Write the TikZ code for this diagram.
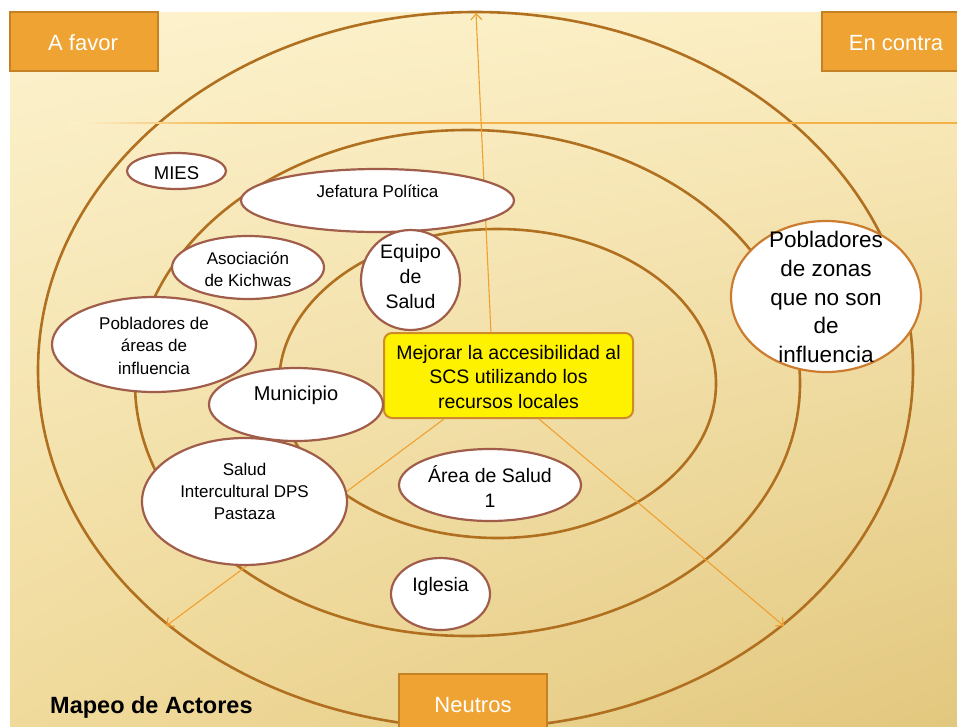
\documentclass[tikz,border=0pt]{standalone}
\usepackage{fontspec}
\setmainfont{Liberation Sans}
\usetikzlibrary{shapes.geometric,arrows.meta,shadings}
\definecolor{ringc}{RGB}{176,112,32}
\definecolor{ebord}{RGB}{160,94,74}
\definecolor{ebord2}{RGB}{204,124,46}
\definecolor{oboxc}{RGB}{239,163,50}
\definecolor{oboxb}{RGB}{196,130,36}
\definecolor{arrc}{RGB}{240,160,48}
\definecolor{hlinec}{RGB}{243,178,72}
\definecolor{goalb}{RGB}{206,140,40}
\definecolor{bgUL}{RGB}{252,242,206}
\definecolor{bgUR}{RGB}{251,237,192}
\definecolor{bgLL}{RGB}{240,218,155}
\definecolor{bgLR}{RGB}{226,199,126}
\newcommand{\fs}[2]{\fontsize{#1}{#2}\selectfont}
\begin{document}
\begin{tikzpicture}[x=1pt,y=-1pt,
  ringline/.style={draw=ringc,line width=2.6pt},
  ell/.style={ellipse,draw=ebord,line width=2.2pt,fill=white,inner sep=0pt},
  txt/.style={inner sep=0pt,align=center,text=black},
  obox/.style={rectangle,fill=oboxc,draw=oboxb,line width=2pt,minimum width=148pt,minimum height=59pt,inner sep=0pt},
  wtxt/.style={inner sep=0pt,text=white,font=\fs{22}{26},anchor=base},
  arr/.style={draw=arrc,line width=1.1pt,-{Straight Barb[length=6pt,width=11pt]}},
  goalbox/.style={rectangle,rounded corners=8pt,fill=yellow,draw=goalb,line width=2pt,minimum width=249pt,minimum height=85pt,inner sep=0pt}
]
\useasboundingbox (0,0) rectangle (957,726);
\fill[white] (0,0) rectangle (957,726);
\shade[upper left=bgUL,upper right=bgUR,lower left=bgLL,lower right=bgLR] (10,12) rectangle (957,726);

% concentric rings
\draw[ringline] (475.5,370) ellipse [x radius=437.5, y radius=358];
\draw[ringline] (467.5,383) ellipse [x radius=332.5, y radius=253];
\draw[ringline] (497.5,383.5) ellipse [x radius=218.5, y radius=154.5];

% horizontal line
\coordinate (hl) at (240,123);
\coordinate (hr) at (957,123);
\shade[left color=bgUL,right color=hlinec] (70,122.3) rectangle (240,123.7);
\draw[draw=hlinec,line width=1.4pt] (hl) -- (hr);

% goal box
\node[goalbox] (goal) at (508.5,375.5) {};
\node[txt,font=\fs{19.5}{24.5}] (goalt) at (508.5,377) {Mejorar la accesibilidad al\\SCS utilizando los\\recursos locales};

% arrows
\coordinate (topend) at (476,13);
\coordinate (llend) at (166,626);
\coordinate (lrend) at (784,626);
\draw[arr] (goal.112) -- (topend);
\draw[arr] (goal.214) -- (llend);
\draw[arr] (goal.305) -- (lrend);

% actor ellipses
\node[ell,minimum width=99pt,minimum height=36pt] (mies) at (176.5,171) {};
\node[ell,minimum width=273pt,minimum height=63pt] (jef) at (377.5,200.5) {};
\node[ell,minimum width=152pt,minimum height=63pt] (aso) at (248,267.5) {};
\node[ell,minimum width=99pt,minimum height=100pt] (equ) at (410.5,280) {};
\node[ell,minimum width=204pt,minimum height=95pt] (pob) at (154,344.5) {};
\node[ell,minimum width=174pt,minimum height=73pt] (mun) at (296,404.5) {};
\node[ell,minimum width=205pt,minimum height=127pt] (sal) at (244.5,501.5) {};
\node[ell,minimum width=182pt,minimum height=72pt] (are) at (490,485) {};
\node[ell,minimum width=99pt,minimum height=72pt] (igl) at (440.5,594) {};
\node[ell,draw=ebord2,minimum width=190pt,minimum height=151pt] (pobz) at (826,296.5) {};

\node[txt,font=\fs{18.5}{22},anchor=base] (miest) at (176.5,179) {MIES};
\node[txt,font=\fs{17}{22},anchor=base] (jeft) at (377.5,197) {Jefatura Política};
\node[txt,font=\fs{17}{22.5}] (asot) at (248,269.5) {Asociación\\de Kichwas};
\node[txt,font=\fs{19.5}{25}] (equt) at (410.5,277) {Equipo\\de\\Salud};
\node[txt,font=\fs{17}{22.5}] (pobt) at (154,345.5) {Pobladores de\\áreas de\\influencia};
\node[txt,font=\fs{20}{24},anchor=base] (munt) at (296,400) {Municipio};
\node[txt,font=\fs{17}{22}] (salt) at (244.5,491) {Salud\\Intercultural DPS\\Pastaza};
\node[txt,font=\fs{19.5}{25}] (aret) at (490,486.5) {Área de Salud\\1};
\node[txt,font=\fs{19.5}{24},anchor=base] (iglt) at (440.5,591) {Iglesia};
\node[txt,font=\fs{22.5}{28.7}] (pobzt) at (826,297) {Pobladores\\de zonas\\que no son\\de\\influencia};

% category boxes
\node[obox] (favor) at (84,41.5) {};
\node[wtxt] (favort) at (83,50) {A favor};
\node[obox] (contra) at (896,41.5) {};
\node[wtxt] (contrat) at (896,50) {En contra};
\node[obox] (neutro) at (473,703.5) {};
\node[wtxt] (neutrot) at (473,712) {Neutros};

% title
\node[inner sep=0pt,anchor=base west,font=\fs{23.5}{28}\bfseries] (title) at (50,713) {Mapeo de Actores};
\end{tikzpicture}
\end{document}
